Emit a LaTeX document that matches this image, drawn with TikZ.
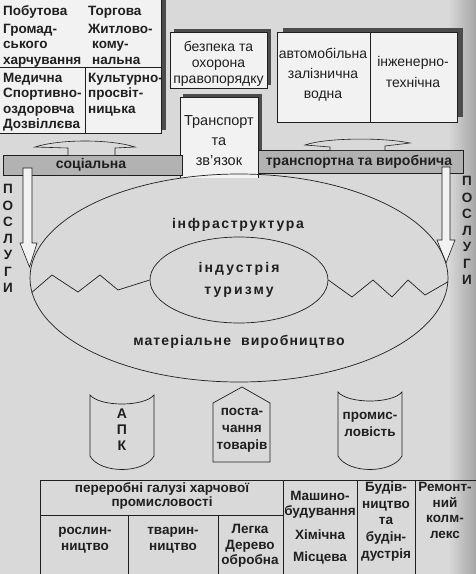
\documentclass[tikz,border=0pt]{standalone}
\usepackage{fontspec}
\setmainfont{Liberation Sans}
\usetikzlibrary{shapes.geometric}
\definecolor{paper}{gray}{0.85}
\definecolor{sheet}{gray}{0.95}
\definecolor{band}{gray}{0.70}
\definecolor{shd}{gray}{0.30}
\definecolor{ink}{gray}{0.12}
\begin{document}
\begin{tikzpicture}[x=1pt, y=-1pt,
  every node/.style={inner sep=0pt, align=center, text=ink, font=\fontsize{14}{20}\selectfont},
  bf/.style={font=\fontsize{13.5}{15.5}\selectfont\bfseries},
  spaced/.style={font=\fontsize{14}{22}\selectfont\bfseries\addfontfeature{LetterSpace=12}},
  box/.style={draw=ink, fill=sheet, line width=0.7pt},
  bar/.style={draw=ink, fill=band, line width=0.6pt},
  arr/.style={draw=ink, fill=paper, line width=0.6pt},
  ln/.style={draw=ink, line width=0.7pt}]
% paper
\fill[paper] (0,0) rectangle (476,574);
\shade[left color=paper, right color=black!35] (448,0) rectangle (476,574);
\useasboundingbox (0,0) rectangle (476,574);

% upper left block
\fill[shd] (160,0) rectangle (166,130);
\draw[box] (-2,-2) rectangle (161,133);
\draw[ln] (0,67) -- (161,67);
\draw[ln] (85,67) -- (85,133);
\node[bf, anchor=west] (pob) at (3,12) {Побутова};
\node[bf, anchor=north west, align=left] (grom) at (3,24) {Громад-\\ського\\харчування};
\node[bf, anchor=west] (torg) at (88,12) {Торгова};
\node[bf, anchor=north west, align=left] (zhk) at (88,24) {Житлово-\\\hspace*{4pt}кому-\\\hspace*{4pt}нальна};
\node[bf, anchor=north west, align=left] (med) at (3,73) {Медична\\Спортивно-\\оздоровча\\Дозвіллєва};
\node[bf, anchor=north west, align=left] (kult) at (88,73) {Культурно-\\просвіт-\\ницька};

% safety
\fill[shd] (174,29) rectangle (271,85);
\draw[box] (170,32) rectangle (267,88);
\node[font=\fontsize{14}{16}\selectfont] (safe) at (218.5,64) {безпека та\\охорона\\правопорядку};

% transport kinds
\fill[shd] (283,28) rectangle (463,117);
\draw[box] (277,32) rectangle (457,122);
\draw[ln] (370,32) -- (370,122);
\node (auto) at (323,75) {автомобільна\\залізнична\\водна};
\node[font=\fontsize{14}{21}\selectfont] (eng) at (413,72) {інженерно-\\технічна};

% transport and communication
\fill[shd] (183,94) rectangle (262,150);
\fill[sheet] (180,97) rectangle (258,178);
\draw[ln] (180,178) -- (180,97) -- (258,97) -- (258,178);
\node[font=\fontsize{14.5}{20}\selectfont] (trans) at (219,141) {Транспорт\\та\\зв'язок};

% bars
\draw[bar] (3,155) rectangle (182,175);
\node[font=\fontsize{14}{16}\selectfont\bfseries] (soc) at (91,165) {соціальна};
\draw[bar] (258,150) rectangle (463,173);
\node[font=\fontsize{14}{16}\selectfont\bfseries] (prod) at (359,162) {транспортна та виробнича};

% flat arrows up
\draw[arr] (68,155) -- (68,148) -- (35,147) .. controls (60,139) and (110,139) .. (135,147) -- (115,148) -- (115,155);
\draw[arr] (330,150) -- (330,147) -- (305,145) .. controls (325,138) and (380,137) .. (410,143) -- (385,146) -- (385,150);

% services arrows
\draw[arr, fill=sheet] (23,168) -- (23,243) -- (20,243) -- (29.5,267) -- (37,243) -- (32,243) -- (32,168) -- cycle;
\draw[arr, fill=sheet] (442,167) -- (442,240) -- (437,240) -- (446,263) -- (455,240) -- (450,240) -- (450,167) -- cycle;
\node[font=\fontsize{13.5}{16.5}\selectfont\bfseries] (posl) at (8,238.5) {П\\О\\С\\Л\\У\\Г\\И};
\node[font=\fontsize{13.5}{16.5}\selectfont\bfseries] (posr) at (467,230.5) {П\\О\\С\\Л\\У\\Г\\И};

% ellipses
\node[ellipse, ln, minimum width=418pt, minimum height=208pt] (infra) at (239,278) {};
\node[spaced] (infratext) at (238,225) {інфраструктура};
\node[ellipse, ln, minimum width=178pt, minimum height=86pt, spaced, font=\fontsize{14}{22}\selectfont\bfseries\addfontfeature{LetterSpace=15}] (tour) at (239,280) {індустрія\\туризму};
\node[spaced, font=\fontsize{14}{16}\selectfont\bfseries\addfontfeature{LetterSpace=8}] (mat) at (239,342) {матеріальне \ виробництво};

\draw[ln] (infra.184) -- (52,275) -- (78,292) -- (100,275) -- (118,290) -- (tour.west);
\draw[ln] (tour.east) -- (352,297) -- (373,280) -- (392,297) -- (408,280) -- (425,295) -- (infra.359);

% sectors
\draw[ln] (90,395) .. controls (100,407) and (144,407) .. (154,395) -- (154,456) .. controls (144,474) and (100,474) .. (90,456) -- cycle;
\node[font=\fontsize{14}{16}\selectfont\bfseries] (apk) at (122,430) {А\\П\\К};
\draw[ln] (213,403) -- (242,387) -- (270,403) -- (270,462) -- (213,462) -- cycle;
\node[font=\fontsize{13.5}{17}\selectfont\bfseries] (supply) at (242,430) {поста-\\чання\\товарів};
\draw[ln] (338,392) .. controls (348,404) and (392,404) .. (402,392) -- (402,456) .. controls (392,474) and (348,474) .. (338,456) -- cycle;
\node[font=\fontsize{13.5}{17}\selectfont\bfseries] (ind) at (370,424) {промис-\\ловість};

% table
\draw[ln] (40,580) -- (40,480) -- (480,480);
\draw[ln] (40,515) -- (283,515);
\draw[ln] (283,480) -- (283,580);
\draw[ln] (357,480) -- (357,580);
\draw[ln] (415,480) -- (415,580);
\draw[ln] (128,515) -- (128,580);
\draw[ln] (218,515) -- (218,580);
\node[bf, font=\fontsize{13.5}{14}\selectfont\bfseries] (food) at (162,496) {переробні галузі харчової\\промисловості};
\node[bf] (plant) at (85,540) {рослин-\\ництво};
\node[bf] (animal) at (173,540) {тварин-\\ництво};
\node[bf] (light) at (250,546) {Легка\\Дерево\\обробна};
\node[bf] (mach) at (320,505) {Машино-\\будування};
\node[bf] (chem) at (320,535) {Хімічна};
\node[bf] (local) at (320,558) {Місцева};
\node[bf, font=\fontsize{13.5}{16.75}\selectfont\bfseries] (build) at (386,521.5) {Будів-\\ництво\\та\\будін-\\дустрія};
\node[bf] (repair) at (445,510.5) {Ремонт-\\ний\\колм-\\лекс};
\end{tikzpicture}
\end{document}
